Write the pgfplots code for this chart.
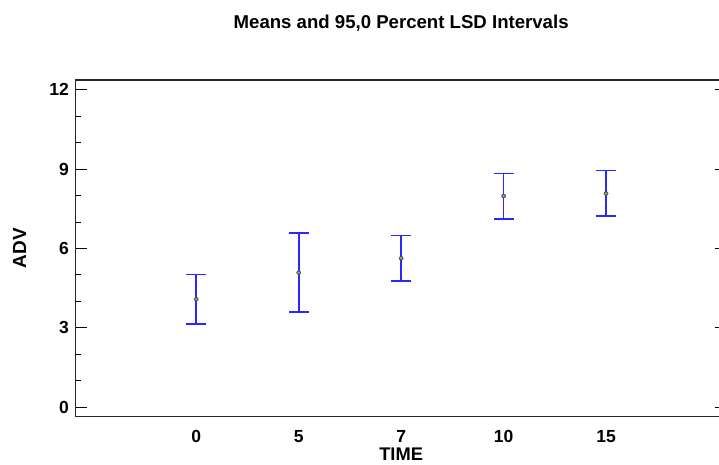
\documentclass[border=0pt]{standalone}
\usepackage{pgfplots}
\pgfplotsset{compat=1.18}
\usepackage{fontspec}
\setmainfont{Liberation Sans}
\definecolor{barblue}{RGB}{40,40,255}
\definecolor{meanfill}{RGB}{190,190,20}
\pgfplotstableread{
x y e
0 4.08 0.94
1 5.09 1.485
2 5.63 0.86
3 7.98 0.855
4 8.08 0.865
}\means
\begin{document}
\begin{tikzpicture}
\useasboundingbox (-75.3pt,-47.3pt) rectangle (643.7pt,416.7pt);
\begin{axis}[
  at={(0pt,0pt)}, anchor=south west,
  scale only axis,
  width=651.7pt, height=336.7pt,
  xmin=-1.18, xmax=5.18,
  ymin=-0.36, ymax=12.37,
  xtick={0,1,2,3,4},
  xticklabels={0,5,7,10,15},
  ytick={0,3,6,9,12},
  minor y tick num=2,
  tick align=inside,
  xtick style={draw=none},
  major tick length=12pt,
  minor tick length=6pt,
  ytick pos=both,
  axis line style={line width=1.1pt, black!85},
  every tick/.style={black, line width=1pt},
  /pgf/number format/assume math mode=true,
  ticklabel style={font=\bfseries\fontsize{17.5}{20}\selectfont},
  xticklabel style={yshift=-10pt},
  yticklabel style={xshift=-3pt},
  title={Means and 95,0 Percent LSD Intervals},
  title style={font=\bfseries\fontsize{18.6}{22}\selectfont, at={(axis description cs:0.5,1)}, anchor=base, yshift=45.5pt},
  xlabel={TIME},
  xlabel style={font=\bfseries\fontsize{18.3}{22}\selectfont, at={(axis description cs:0.5,-0.1120)}, anchor=center},
  ylabel={ADV},
  ylabel style={font=\bfseries\fontsize{19}{22}\selectfont, at={(axis description cs:-0.0853,0.5)}, anchor=center},
  clip=false,
]
\addplot[
  barblue,
  only marks,
  mark=none,
  forget plot,
  error bars/.cd,
    y dir=both, y explicit,
    error bar style={barblue, line width=1.7pt},
    error mark options={barblue, rotate=90, mark size=10pt, line width=1.7pt},
] table[x=x, y=y, y error=e] {\means};
\addplot[
  only marks,
  mark=*,
  mark size=1.8pt,
  mark options={fill=meanfill, draw=meanfill!50!black, line width=0.5pt},
] table[x=x, y=y] {\means};
\end{axis}
\end{tikzpicture}
\end{document}
